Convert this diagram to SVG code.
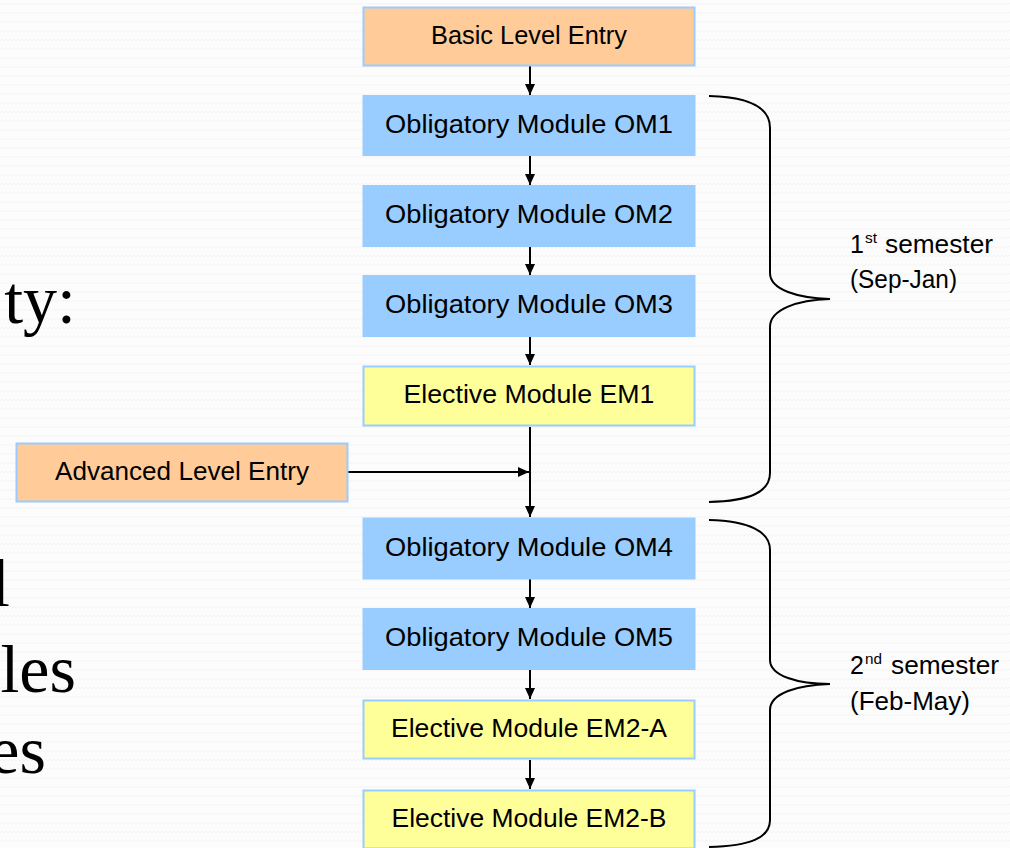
<svg xmlns="http://www.w3.org/2000/svg" width="1010" height="848" viewBox="0 0 1010 848">
<defs>
<pattern id="bgpat" width="8" height="9" patternUnits="userSpaceOnUse">
<rect width="8" height="9" fill="#fcfcfc"/>
<path d="M0,5 L2,3 L4,5 L6,3 L8,5" fill="none" stroke="#f4f4f4" stroke-width="1"/>
</pattern>
<marker id="arr" markerUnits="userSpaceOnUse" markerWidth="11" markerHeight="11" refX="11" refY="5.5" orient="auto">
<path d="M0,0.5 L11,5.5 L0,10.5 z" fill="#000"/>
</marker>
<style>
.box{stroke:#99CCFF;stroke-width:2}
.orange{fill:#FFCC99}
.blue{fill:#99CCFF}
.yellow{fill:#FFFF99}
.t{font-family:"Liberation Sans",Arial,sans-serif;font-size:26px;fill:#000;text-anchor:middle}
.lbl{font-family:"Liberation Sans",Arial,sans-serif;font-size:25px;fill:#000}
.sup{font-family:"Liberation Sans",Arial,sans-serif;font-size:15px;fill:#000}
.serif{font-family:"Liberation Serif","Times New Roman",serif;font-size:68px;fill:#000;text-anchor:end}
.con{stroke:#000;stroke-width:2;fill:none}
.brace{stroke:#000;stroke-width:2;fill:none}
</style>
</defs>
<rect width="1010" height="848" fill="url(#bgpat)"/>

<g id="slide-text">
<text class="serif" x="76" y="323">ty:</text>
<text class="serif" x="10" y="606">l</text>
<text class="serif" x="76" y="692">les</text>
<text class="serif" x="46" y="773">es</text>
</g>

<g id="connectors">
<line class="con" x1="530" y1="66" x2="530" y2="95" marker-end="url(#arr)"/>
<line class="con" x1="530" y1="156" x2="530" y2="185" marker-end="url(#arr)"/>
<line class="con" x1="530" y1="246" x2="530" y2="275" marker-end="url(#arr)"/>
<line class="con" x1="530" y1="336" x2="530" y2="365" marker-end="url(#arr)"/>
<line class="con" x1="530" y1="427" x2="530" y2="517" marker-end="url(#arr)"/>
<line class="con" x1="348" y1="472" x2="529" y2="472" marker-end="url(#arr)"/>
<line class="con" x1="530" y1="579" x2="530" y2="608" marker-end="url(#arr)"/>
<line class="con" x1="530" y1="670" x2="530" y2="699" marker-end="url(#arr)"/>
<line class="con" x1="530" y1="760" x2="530" y2="789" marker-end="url(#arr)"/>
</g>

<g id="basic-entry">
<rect class="box orange" x="363.5" y="7.5" width="331" height="58"/>
<text class="t" x="529" y="44" textLength="196" lengthAdjust="spacingAndGlyphs">Basic Level Entry</text>
</g>
<g id="om1">
<rect class="box blue" x="363.5" y="96" width="331" height="59"/>
<text class="t" x="529" y="133" textLength="288" lengthAdjust="spacingAndGlyphs">Obligatory Module OM1</text>
</g>
<g id="om2">
<rect class="box blue" x="363.5" y="186" width="331" height="60"/>
<text class="t" x="529" y="223" textLength="288" lengthAdjust="spacingAndGlyphs">Obligatory Module OM2</text>
</g>
<g id="om3">
<rect class="box blue" x="363.5" y="276" width="331" height="60"/>
<text class="t" x="529" y="313" textLength="288" lengthAdjust="spacingAndGlyphs">Obligatory Module OM3</text>
</g>
<g id="em1">
<rect class="box yellow" x="363.5" y="366.5" width="331" height="59"/>
<text class="t" x="529" y="403" textLength="251" lengthAdjust="spacingAndGlyphs">Elective Module EM1</text>
</g>
<g id="advanced-entry">
<rect class="box orange" x="16.5" y="443.5" width="331" height="58"/>
<text class="t" x="182" y="480" textLength="254" lengthAdjust="spacingAndGlyphs">Advanced Level Entry</text>
</g>
<g id="om4">
<rect class="box blue" x="363.5" y="518.5" width="331" height="60"/>
<text class="t" x="529" y="556" textLength="288" lengthAdjust="spacingAndGlyphs">Obligatory Module OM4</text>
</g>
<g id="om5">
<rect class="box blue" x="363.5" y="609" width="331" height="60"/>
<text class="t" x="529" y="646" textLength="288" lengthAdjust="spacingAndGlyphs">Obligatory Module OM5</text>
</g>
<g id="em2a">
<rect class="box yellow" x="363.5" y="700.5" width="331" height="58"/>
<text class="t" x="529" y="737" textLength="276" lengthAdjust="spacingAndGlyphs">Elective Module EM2-A</text>
</g>
<g id="em2b">
<rect class="box yellow" x="363.5" y="790.5" width="331" height="58"/>
<text class="t" x="529" y="827" textLength="275" lengthAdjust="spacingAndGlyphs">Elective Module EM2-B</text>
</g>

<g id="semester1">
<path class="brace" d="M709,96 C750,97 770,108 770,128 L770,273 C770,290 798,298 830,299 C798,300 770,309 770,327 L770,473 C770,492 750,501 709,502"/>
<text class="lbl" x="850" y="253">1</text>
<text class="sup" x="865" y="243" textLength="12" lengthAdjust="spacingAndGlyphs">st</text>
<text class="lbl" x="885" y="253" textLength="108" lengthAdjust="spacingAndGlyphs">semester</text>
<text class="lbl" x="850" y="288" textLength="107" lengthAdjust="spacingAndGlyphs">(Sep-Jan)</text>
</g>
<g id="semester2">
<path class="brace" d="M709,520 C750,521 770,532 770,550 L770,660 C770,676 798,684 830,684 C798,685 770,693 770,710 L770,820 C770,838 750,846 709,847"/>
<text class="lbl" x="850" y="674">2</text>
<text class="sup" x="865" y="664" textLength="17" lengthAdjust="spacingAndGlyphs">nd</text>
<text class="lbl" x="891" y="674" textLength="108" lengthAdjust="spacingAndGlyphs">semester</text>
<text class="lbl" x="850" y="710" textLength="120" lengthAdjust="spacingAndGlyphs">(Feb-May)</text>
</g>
</svg>
